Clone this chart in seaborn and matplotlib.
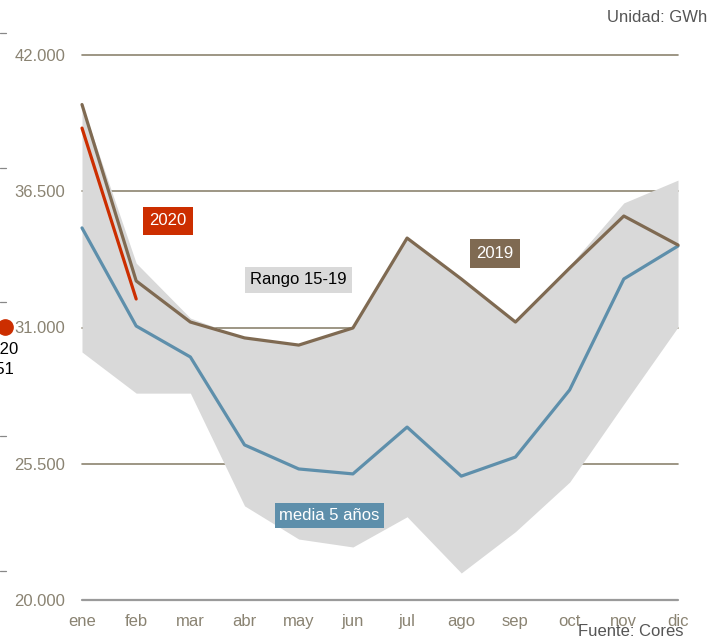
import seaborn as sns
import matplotlib.pyplot as plt
import matplotlib.lines as mlines
import pandas as pd

# data (GWh)
meses = ['ene', 'feb', 'mar', 'abr', 'may', 'jun', 'jul', 'ago', 'sep', 'oct', 'nov', 'dic']
y2019 = [40000, 32880, 31220, 30580, 30290, 30980, 34610, 32960, 31220, 33400, 35500, 34330]
y2020 = [39050, 32151]
media5 = [35020, 31060, 29810, 26260, 25290, 25090, 26980, 25000, 25770, 28480, 32960, 34290]
rango_max = [40000, 33600, 31380, 30580, 30290, 30980, 34610, 32960, 31220, 33500, 36030, 36950]
rango_min = [30010, 28350, 28350, 23800, 22460, 22140, 23360, 21090, 22760, 24760, 27910, 31020]
yticks = [20000, 25500, 31000, 36500, 42000]
ytick_labels = ['20.000', '25.500', '31.000', '36.500', '42.000']

c2019 = '#7f6a52'
c2020 = '#cc2e00'
cmedia = '#5e8fab'
cband = '#d9d9d9'
cgrid = '#8c846f'
ctick = '#8a8372'

sns.set_style('white')
plt.rcParams['font.family'] = ['Liberation Sans', 'DejaVu Sans']

df = pd.DataFrame({'mes': range(len(meses)), '2019': y2019, 'media': media5,
                   'min': rango_min, 'max': rango_max})
df20 = pd.DataFrame({'mes': range(len(y2020)), '2020': y2020})

fig = plt.figure(figsize=(7.22, 6.38), dpi=100)
ax = fig.add_axes([82 / 722, 1 - 600 / 638, (678 - 82) / 722, (600 - 55) / 638])

# grid lines under the band
for v in yticks[1:]:
    ax.axhline(v, color=cgrid, lw=1.2, zorder=0)
ax.axhline(yticks[0], color='#9a9a9a', lw=1.6, zorder=0)

ax.fill_between(df['mes'], df['min'], df['max'], color=cband, lw=0, zorder=1)

sns.lineplot(data=df, x='mes', y='media', ax=ax, color=cmedia, lw=2.3, zorder=3)
sns.lineplot(data=df20, x='mes', y='2020', ax=ax, color=c2020, lw=2.3, zorder=3)
sns.lineplot(data=df, x='mes', y='2019', ax=ax, color=c2019, lw=2.3, zorder=4)
for ln in ax.lines:
    ln.set_clip_on(False)

ax.set_xlim(0, len(meses) - 1)
ax.set_ylim(yticks[0], yticks[-1])
ax.set_xticks(range(len(meses)))
ax.set_xticklabels(meses)
ax.set_yticks(yticks)
ax.set_yticklabels(ytick_labels)
ax.tick_params(axis='x', length=0, pad=10, labelsize=12, labelcolor=ctick)
ax.tick_params(axis='y', length=0, pad=12, labelsize=12, labelcolor=ctick)
ax.set_xlabel('')
ax.set_ylabel('')
for s in ax.spines.values():
    s.set_visible(False)

# series labels
def etiqueta(x, y, txt, fc, tc='white', pad=0.35):
    ax.text(x, y, txt, ha='center', va='center', fontsize=12, color=tc, zorder=6,
            bbox=dict(boxstyle='square,pad=%s' % pad, fc=fc, ec='none'))

etiqueta(1.59, 35300, '2020', c2020, pad=0.4)
etiqueta(3.99, 32920, 'Rango 15-19', cband, tc='black', pad=0.32)
etiqueta(7.62, 33990, '2019', c2019, pad=0.4)
etiqueta(4.57, 23410, 'media 5 años', cmedia, pad=0.28)

# clipped marker at the left edge
fig.add_artist(mlines.Line2D([5 / 722], [1 - 327 / 638], marker='o', ms=11,
                             color=c2020, lw=0))
fig.text(18 / 722, 1 - 350 / 638, '2020', ha='right', va='center', fontsize=12, color='black')
fig.text(14 / 722, 1 - 370 / 638, '32.151', ha='right', va='center', fontsize=12, color='black')

# little dashes at the left edge
for yp in [33, 168, 302, 436, 571]:
    fig.add_artist(mlines.Line2D([0, 6 / 722], [1 - yp / 638] * 2, color='#888888', lw=0.9))

fig.text(707 / 722, 1 - 18 / 638, 'Unidad: GWh', ha='right', va='center', fontsize=12, color='#555555')
fig.text(683 / 722, 1 - 631 / 638, 'Fuente: Cores', ha='right', va='center', fontsize=12, color='#555555')

plt.savefig('out.png', dpi=100)
